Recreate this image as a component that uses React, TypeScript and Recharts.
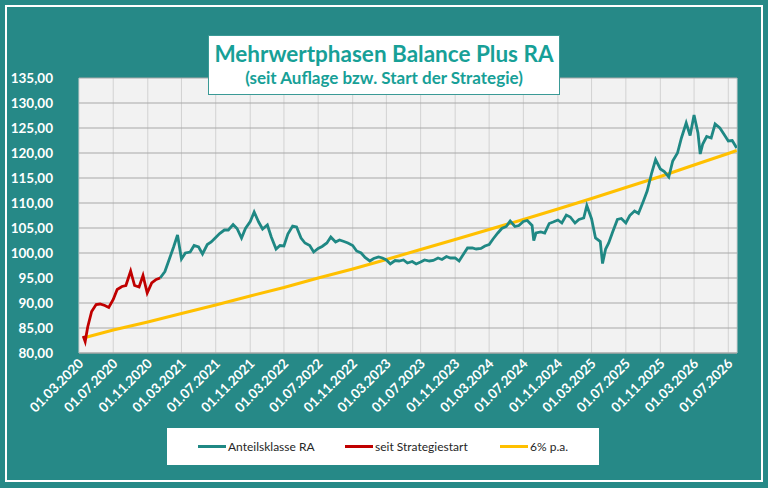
import { LineChart, Line, XAxis, YAxis, CartesianGrid } from "recharts";

const BG = "#268987";
const FONT = "Lato, 'Open Sans', sans-serif";

const xTickDates = [
  "2020-03-01", "2020-07-01", "2020-11-01", "2021-03-01", "2021-07-01",
  "2021-11-01", "2022-03-01", "2022-07-01", "2022-11-01", "2023-03-01",
  "2023-07-01", "2023-11-01", "2024-03-01", "2024-07-01", "2024-11-01",
  "2025-03-01", "2025-07-01", "2025-11-01", "2026-03-01", "2026-07-01",
];
const xDomain = ["2020-03-01", "2026-08-01"];
const yTicks = [80, 85, 90, 95, 100, 105, 110, 115, 120, 125, 130, 135];

// seit Strategiestart (red part)
const strategy: [string, number][] = [
  ["2020-03-16", 83.4], ["2020-03-23", 82.3], ["2020-04-01", 85.2], ["2020-04-15", 88.3],
  ["2020-05-01", 89.7], ["2020-05-15", 89.8], ["2020-06-01", 89.5], ["2020-06-15", 89.1],
  ["2020-07-01", 90.7], ["2020-07-15", 92.7], ["2020-08-01", 93.3], ["2020-08-15", 93.5],
  ["2020-09-01", 96.4], ["2020-09-15", 93.5], ["2020-10-01", 93.2], ["2020-10-15", 95.5],
  ["2020-10-30", 92.0], ["2020-11-15", 94.0], ["2020-12-01", 94.7], ["2020-12-15", 95.0],
];

// Anteilsklasse RA
const shareClass: [string, number][] = [
  ["2020-12-15", 95.0], ["2021-01-01", 96.3], ["2021-01-15", 98.5], ["2021-02-01", 101.2],
  ["2021-02-15", 103.6], ["2021-03-01", 98.8], ["2021-03-15", 100.0], ["2021-04-01", 100.2],
  ["2021-04-15", 101.5], ["2021-05-01", 101.2], ["2021-05-15", 99.8], ["2021-06-01", 101.7],
  ["2021-06-15", 102.2], ["2021-07-01", 103.1], ["2021-07-15", 103.9], ["2021-08-01", 104.6],
  ["2021-08-15", 104.6], ["2021-09-01", 105.7], ["2021-09-15", 104.9], ["2021-10-01", 103.0],
  ["2021-10-15", 104.9], ["2021-11-01", 106.3], ["2021-11-15", 108.2], ["2021-12-01", 106.2],
  ["2021-12-15", 104.8], ["2022-01-01", 105.6], ["2022-01-15", 103.2], ["2022-02-01", 100.8],
  ["2022-02-15", 101.5], ["2022-03-01", 101.4], ["2022-03-15", 103.8], ["2022-04-01", 105.4],
  ["2022-04-15", 105.2], ["2022-05-01", 103.0], ["2022-05-15", 102.0], ["2022-06-01", 101.5],
  ["2022-06-15", 100.2], ["2022-07-01", 100.9], ["2022-07-15", 101.3], ["2022-08-01", 102.0],
  ["2022-08-15", 103.2], ["2022-09-01", 102.2], ["2022-09-15", 102.6], ["2022-10-01", 102.3],
  ["2022-10-15", 102.0], ["2022-11-01", 101.5], ["2022-11-15", 100.4], ["2022-12-01", 100.0],
  ["2022-12-15", 99.1], ["2023-01-01", 98.4], ["2023-01-15", 98.9], ["2023-02-01", 99.2],
  ["2023-02-15", 99.0], ["2023-03-01", 98.6], ["2023-03-15", 97.8], ["2023-04-01", 98.5],
  ["2023-04-15", 98.4], ["2023-05-01", 98.6], ["2023-05-15", 98.0], ["2023-06-01", 98.3],
  ["2023-06-15", 97.8], ["2023-07-01", 98.2], ["2023-07-15", 98.6], ["2023-08-01", 98.4],
  ["2023-08-15", 98.5], ["2023-09-01", 99.0], ["2023-09-15", 98.7], ["2023-10-01", 99.3],
  ["2023-10-15", 99.0], ["2023-11-01", 99.0], ["2023-11-15", 98.4], ["2023-12-01", 99.8],
  ["2023-12-15", 101.0], ["2024-01-01", 101.0], ["2024-01-15", 100.8], ["2024-02-01", 100.9],
  ["2024-02-15", 101.4], ["2024-03-01", 101.7], ["2024-03-15", 102.8], ["2024-04-01", 104.0],
  ["2024-04-15", 104.9], ["2024-05-01", 105.3], ["2024-05-15", 106.4], ["2024-06-01", 105.3],
  ["2024-06-15", 105.5], ["2024-07-01", 106.3], ["2024-07-15", 106.5], ["2024-08-01", 105.5],
  ["2024-08-07", 102.5], ["2024-08-15", 104.0], ["2024-09-01", 104.2], ["2024-09-15", 104.0],
  ["2024-10-01", 105.9], ["2024-10-15", 106.2], ["2024-11-01", 106.6], ["2024-11-15", 106.0],
  ["2024-12-01", 107.6], ["2024-12-15", 107.2], ["2025-01-01", 106.0], ["2025-01-15", 106.7],
  ["2025-02-01", 107.0], ["2025-02-12", 109.5], ["2025-03-01", 106.8], ["2025-03-15", 103.0],
  ["2025-04-01", 102.3], ["2025-04-09", 97.9], ["2025-04-20", 100.8], ["2025-05-01", 102.0],
  ["2025-05-15", 104.2], ["2025-06-01", 106.7], ["2025-06-15", 106.9], ["2025-07-01", 106.0],
  ["2025-07-15", 107.5], ["2025-08-01", 108.4], ["2025-08-15", 107.9], ["2025-09-01", 110.3],
  ["2025-09-15", 112.4], ["2025-10-01", 116.0], ["2025-10-15", 118.7], ["2025-11-01", 116.8],
  ["2025-11-15", 116.3], ["2025-12-01", 115.2], ["2025-12-15", 118.4], ["2026-01-01", 120.0],
  ["2026-01-15", 123.0], ["2026-02-01", 126.0], ["2026-02-15", 123.5], ["2026-03-01", 127.6],
  ["2026-03-15", 124.0], ["2026-03-23", 119.8], ["2026-04-01", 121.8], ["2026-04-15", 123.3],
  ["2026-05-01", 123.0], ["2026-05-15", 125.8], ["2026-06-01", 125.0], ["2026-06-15", 123.8],
  ["2026-07-01", 122.4], ["2026-07-15", 122.5], ["2026-07-31", 121.0],
];

// 6% p.a.
const benchmark: [string, number][] = [
  ["2020-03-16", 83.0], ["2020-07-01", 84.6], ["2020-11-01", 86.2], ["2021-03-01", 87.9],
  ["2021-07-01", 89.6], ["2021-11-01", 91.4], ["2022-03-01", 93.1], ["2022-07-01", 95.0],
  ["2022-11-01", 96.8], ["2023-03-01", 98.7], ["2023-07-01", 100.7], ["2023-11-01", 102.7],
  ["2024-03-01", 104.7], ["2024-07-01", 106.7], ["2024-11-01", 108.8], ["2025-03-01", 110.9],
  ["2025-07-01", 113.1], ["2025-11-01", 115.3], ["2026-03-01", 117.6], ["2026-07-01", 119.9],
  ["2026-07-31", 120.5],
];

const toTime = (s: string) => Date.parse(s);
const rows = (list: [string, number][]) => list.map(([d, v]) => ({ t: toTime(d), v }));

const fmtDate = (t: number) => {
  const d = new Date(t);
  const dd = String(d.getUTCDate()).padStart(2, "0");
  const mm = String(d.getUTCMonth() + 1).padStart(2, "0");
  return `${dd}.${mm}.${d.getUTCFullYear()}`;
};

function DateTick({ x, y, payload }: any) {
  const ax = x + 2;
  const ay = y + 8;
  return (
    <text
      x={ax}
      y={ay}
      dy="0.35em"
      transform={`rotate(-45 ${ax} ${ay})`}
      textAnchor="end"
      fill="#ffffff"
      fontSize={13.5}
      fontWeight={700}
      fontFamily={FONT}
    >
      {fmtDate(payload.value)}
    </text>
  );
}

const legendItems = [
  { label: "Anteilsklasse RA", color: "#1f8884", left: 31 },
  { label: "seit Strategiestart", color: "#c00000", left: 178 },
  { label: "6% p.a.", color: "#ffc000", left: 333 },
];

export default function App() {
  return (
    <div style={{ position: "absolute", left: 0, top: 0, width: 768, height: 488, background: BG, overflow: "hidden" }}>
      <div
        style={{
          position: "absolute", left: 5, top: 5, width: 758, height: 477,
          border: "2.5px solid #ffffff", boxSizing: "border-box",
        }}
      />
      <LineChart width={768} height={488} margin={{ top: 78, right: 31, left: 0, bottom: 75 }}>
        <CartesianGrid fill="#f2f2f2" horizontal={false} stroke="#d2d2d2" />
        <CartesianGrid vertical={false} stroke="#a8a8a8" />
        <XAxis
          type="number"
          dataKey="t"
          domain={xDomain.map(toTime)}
          ticks={xTickDates.map(toTime)}
          tick={<DateTick />}
          tickLine={false}
          tickSize={0}
          tickMargin={0}
          height={60}
          interval={0}
          axisLine={{ stroke: "#a8a8a8" }}
          allowDataOverflow
        />
        <YAxis
          type="number"
          domain={[80, 135]}
          ticks={yTicks}
          width={79}
          tickLine={false}
          tickSize={0}
          tickMargin={26}
          axisLine={false}
          interval={0}
          tick={{ fill: "#ffffff", fontSize: 13.5, fontWeight: 700, fontFamily: FONT }}
          tickFormatter={(v: number) => v.toFixed(2).replace(".", ",")}
        />
        <Line data={rows(benchmark)} dataKey="v" stroke="#ffc000" strokeWidth={3} dot={false} isAnimationActive={false} />
        <Line data={rows(shareClass)} dataKey="v" stroke="#1f8884" strokeWidth={2.8} dot={false} isAnimationActive={false} />
        <Line data={rows(strategy)} dataKey="v" stroke="#c00000" strokeWidth={2.8} dot={false} isAnimationActive={false} />
      </LineChart>
      <div
        style={{
          position: "absolute", left: 208, top: 35, width: 352, height: 60,
          background: "#ffffff", border: "1px solid #3a9a96", boxSizing: "border-box",
          textAlign: "center", fontFamily: FONT, fontWeight: 700, color: "#17a097",
        }}
      >
        <div style={{ fontSize: 22.5, lineHeight: "27px", marginTop: 4 }}>Mehrwertphasen Balance Plus RA</div>
        <div style={{ fontSize: 17, lineHeight: "21px", marginTop: 0 }}>(seit Auflage bzw. Start der Strategie)</div>
      </div>
      <div
        style={{
          position: "absolute", left: 167, top: 428, width: 432, height: 37,
          background: "#ffffff", fontFamily: FONT, fontSize: 12, color: "#262626",
        }}
      >
        {legendItems.map((it) => (
          <div key={it.label} style={{ position: "absolute", left: it.left, top: 11, display: "flex", alignItems: "center", whiteSpace: "nowrap" }}>
            <span style={{ display: "inline-block", width: 28, height: 3, background: it.color, marginRight: 2 }} />
            <span>{it.label}</span>
          </div>
        ))}
      </div>
    </div>
  );
}
